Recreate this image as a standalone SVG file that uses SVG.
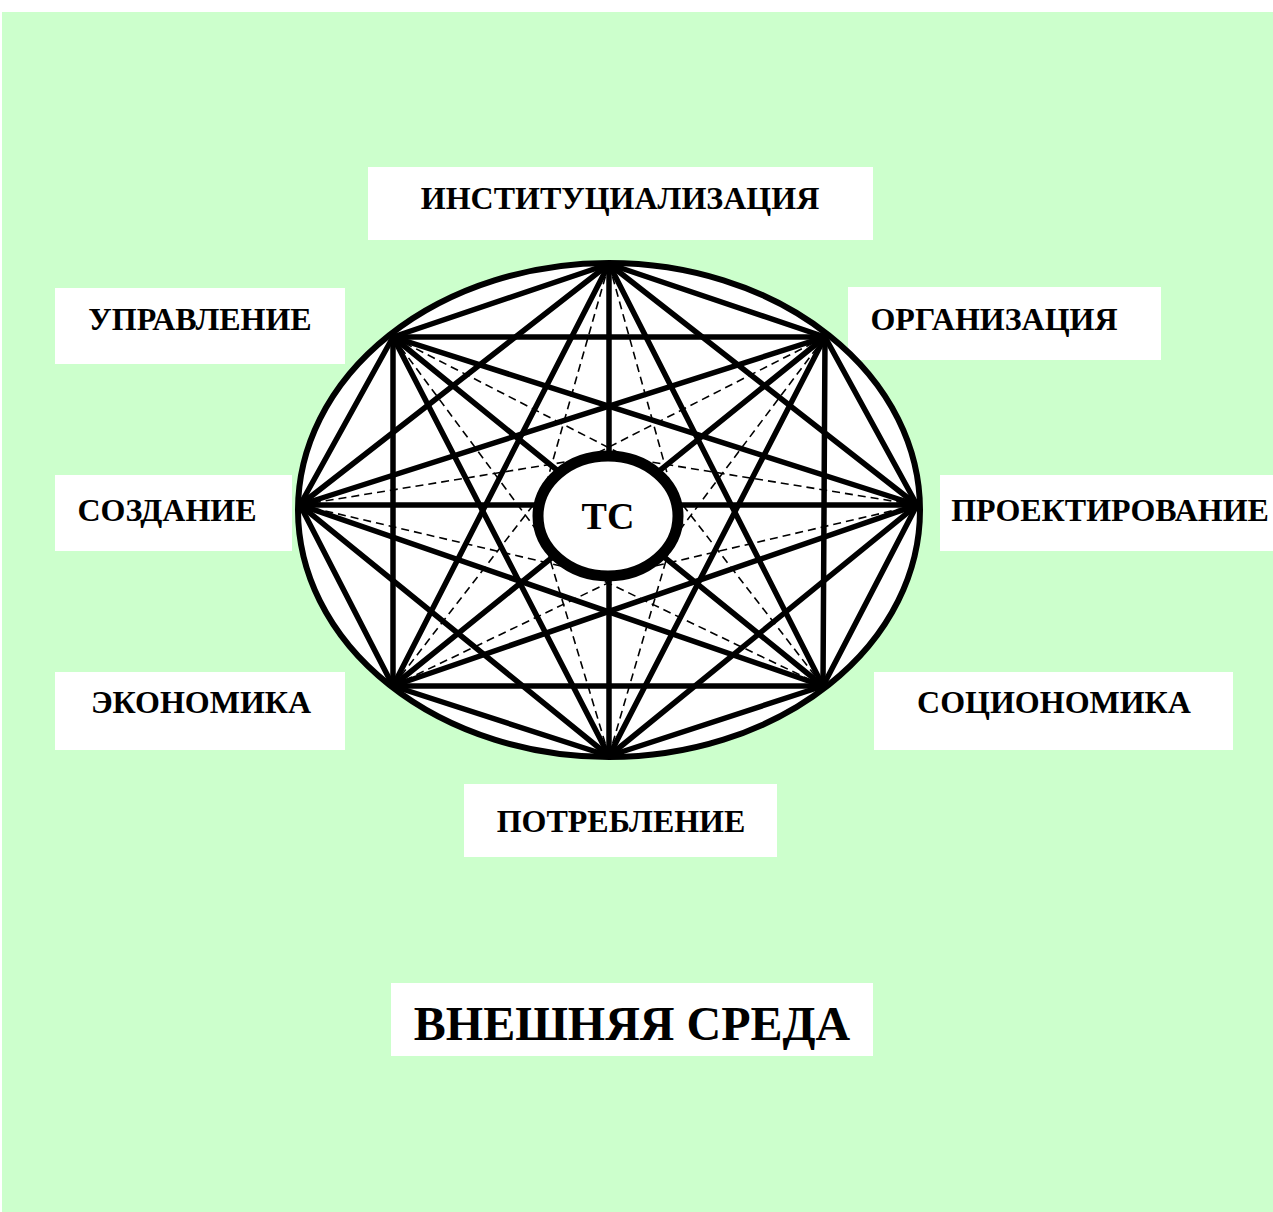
<svg xmlns="http://www.w3.org/2000/svg" width="1273" height="1212" viewBox="0 0 1273 1212">
<style>
.lbl{fill:#ffffff;stroke:none}
.t{font-family:"Liberation Serif","Times New Roman",serif;font-weight:bold;font-size:32px;fill:#000;text-anchor:middle}
.s{stroke:#000;stroke-width:5.5;stroke-linecap:round;fill:none}
.d{stroke:#000;stroke-width:1.6;stroke-dasharray:8 5;fill:none}
</style>
<rect x="0" y="0" width="1273" height="1212" fill="#ffffff"/>
<rect x="2" y="12" width="1271" height="1200" fill="#ccffcc"/>

<g id="node-institutsializatsiya">
<rect class="lbl" x="368" y="167" width="505" height="73"/>
<text class="t" x="620" y="209">ИНСТИТУЦИАЛИЗАЦИЯ</text>
</g>
<g id="node-upravlenie">
<rect class="lbl" x="55" y="288" width="290" height="76"/>
<text class="t" x="200" y="330">УПРАВЛЕНИЕ</text>
</g>
<g id="node-organizatsiya">
<rect class="lbl" x="848" y="287" width="313" height="73"/>
<text class="t" x="994" y="330">ОРГАНИЗАЦИЯ</text>
</g>
<g id="node-sozdanie">
<rect class="lbl" x="55" y="475" width="237" height="76"/>
<text class="t" x="167" y="521">СОЗДАНИЕ</text>
</g>
<g id="node-proektirovanie">
<rect class="lbl" x="940" y="475" width="333" height="76"/>
<text class="t" x="1110" y="521">ПРОЕКТИРОВАНИЕ</text>
</g>
<g id="node-ekonomika">
<rect class="lbl" x="55" y="672" width="290" height="78"/>
<text class="t" x="201" y="713">ЭКОНОМИКА</text>
</g>
<g id="node-sotsionomika">
<rect class="lbl" x="874" y="672" width="359" height="78"/>
<text class="t" x="1054" y="713">СОЦИОНОМИКА</text>
</g>
<g id="node-potreblenie">
<rect class="lbl" x="464" y="784" width="313" height="73"/>
<text class="t" x="621" y="832">ПОТРЕБЛЕНИЕ</text>
</g>
<g id="node-vneshnyaya-sreda">
<rect class="lbl" x="391" y="983" width="482" height="73"/>
<text class="t" x="632" y="1040" style="font-size:48px">ВНЕШНЯЯ СРЕДА</text>
</g>

<g id="outer-ellipse-fill"><ellipse cx="609" cy="510" rx="311" ry="247" fill="#ffffff"/></g>

<g id="connectors">
<g class="d">
<line x1="609" y1="264" x2="537" y2="516"/><line x1="609" y1="264" x2="679" y2="516"/>
<line x1="609" y1="756" x2="537" y2="516"/><line x1="609" y1="756" x2="679" y2="516"/>
<line x1="300" y1="505" x2="608" y2="455"/><line x1="300" y1="505" x2="608" y2="577"/>
<line x1="917" y1="505" x2="608" y2="455"/><line x1="917" y1="505" x2="608" y2="577"/>
<line x1="393" y1="337" x2="658" y2="473"/><line x1="393" y1="337" x2="558" y2="559"/>
<line x1="823" y1="686" x2="658" y2="473"/><line x1="823" y1="686" x2="558" y2="559"/>
<line x1="825" y1="337" x2="558" y2="473"/><line x1="825" y1="337" x2="658" y2="559"/>
<line x1="393" y1="686" x2="558" y2="473"/><line x1="393" y1="686" x2="658" y2="559"/>
</g>
<g class="s">
<line x1="609" y1="264" x2="825" y2="337"/><line x1="825" y1="337" x2="917" y2="505"/>
<line x1="917" y1="505" x2="823" y2="686"/><line x1="823" y1="686" x2="609" y2="756"/>
<line x1="609" y1="756" x2="393" y2="686"/><line x1="393" y1="686" x2="300" y2="505"/>
<line x1="300" y1="505" x2="393" y2="337"/><line x1="393" y1="337" x2="609" y2="264"/>
<line x1="609" y1="264" x2="917" y2="505"/><line x1="825" y1="337" x2="823" y2="686"/>
<line x1="917" y1="505" x2="609" y2="756"/><line x1="823" y1="686" x2="393" y2="686"/>
<line x1="609" y1="756" x2="300" y2="505"/><line x1="393" y1="686" x2="393" y2="337"/>
<line x1="300" y1="505" x2="609" y2="264"/><line x1="393" y1="337" x2="825" y2="337"/>
<line x1="609" y1="264" x2="823" y2="686"/><line x1="825" y1="337" x2="609" y2="756"/>
<line x1="917" y1="505" x2="393" y2="686"/><line x1="823" y1="686" x2="300" y2="505"/>
<line x1="609" y1="756" x2="393" y2="337"/><line x1="393" y1="686" x2="609" y2="264"/>
<line x1="300" y1="505" x2="825" y2="337"/><line x1="393" y1="337" x2="917" y2="505"/>
<line x1="609" y1="264" x2="609" y2="756"/><line x1="825" y1="337" x2="393" y2="686"/>
<line x1="917" y1="505" x2="300" y2="505"/><line x1="823" y1="686" x2="393" y2="337"/>
</g>
</g>

<g id="outer-ellipse"><ellipse cx="609" cy="510" rx="311" ry="247" fill="none" stroke="#000" stroke-width="6"/></g>

<g id="node-tc">
<ellipse cx="608" cy="516" rx="70" ry="60" fill="#ffffff" stroke="#000" stroke-width="11"/>
<text class="t" x="608" y="529" style="font-size:38px">ТС</text>
</g>
</svg>
